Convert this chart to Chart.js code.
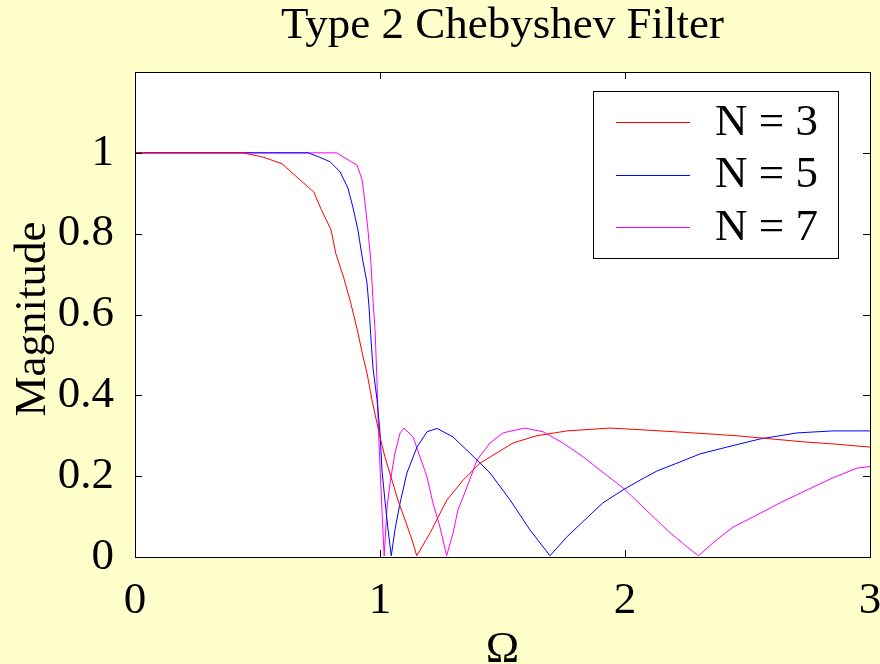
<!DOCTYPE html>
<html>
<head>
<meta charset="utf-8">
<script src="https://cdn.jsdelivr.net/npm/chart.js@4"></script>
<style>
  html, body { margin: 0; padding: 0; background: #ffffcc; overflow: hidden; }
  #wrap { width: 880px; height: 664px; }
</style>
</head>
<body>
<div id="wrap"><canvas id="myChart" width="880" height="664"></canvas></div>
<script>
// values
var omega3 = [0, 0.44, 0.52, 0.60, 0.67, 0.73, 0.76, 0.80, 0.82, 0.85, 0.88, 0.906, 0.931, 0.947, 0.967, 1.0, 1.02, 1.049, 1.073, 1.102, 1.131, 1.15, 1.204, 1.273, 1.339, 1.408, 1.478, 1.543, 1.612, 1.641, 1.763, 1.939, 2.061, 2.306, 2.457, 2.727, 2.865, 3.0];
var mag3 = [1, 1, 0.99, 0.973, 0.935, 0.903, 0.86, 0.81, 0.75, 0.695, 0.63, 0.565, 0.495, 0.455, 0.389, 0.297, 0.248, 0.19, 0.141, 0.092, 0.042, 0.003, 0.059, 0.141, 0.19, 0.232, 0.258, 0.282, 0.295, 0.3, 0.312, 0.319, 0.315, 0.306, 0.3, 0.285, 0.279, 0.272];

var omega5 = [0, 0.706, 0.75, 0.796, 0.837, 0.869, 0.89, 0.91, 0.927, 0.947, 0.955, 0.962, 0.971, 0.988, 1.0, 1.008, 1.02, 1.033, 1.046, 1.061, 1.082, 1.11, 1.151, 1.192, 1.233, 1.298, 1.367, 1.449, 1.531, 1.612, 1.694, 1.763, 1.845, 1.91, 1.992, 2.061, 2.131, 2.224, 2.306, 2.416, 2.551, 2.702, 2.849, 3.0];
var mag5 = [1, 1, 0.99, 0.978, 0.953, 0.913, 0.864, 0.809, 0.743, 0.678, 0.62, 0.55, 0.47, 0.389, 0.307, 0.215, 0.141, 0.067, 0.003, 0.067, 0.134, 0.208, 0.272, 0.31, 0.318, 0.297, 0.257, 0.208, 0.141, 0.067, 0.003, 0.05, 0.097, 0.134, 0.166, 0.19, 0.213, 0.235, 0.255, 0.272, 0.292, 0.307, 0.312, 0.312];

var omega7 = [0, 0.824, 0.849, 0.906, 0.927, 0.939, 0.951, 0.963, 0.971, 0.98, 0.988, 0.992, 0.996, 1.008, 1.017, 1.029, 1.041, 1.061, 1.082, 1.098, 1.135, 1.163, 1.192, 1.216, 1.245, 1.272, 1.298, 1.318, 1.355, 1.396, 1.449, 1.502, 1.59, 1.665, 1.747, 1.829, 1.898, 1.992, 2.073, 2.171, 2.253, 2.3, 2.359, 2.441, 2.539, 2.633, 2.743, 2.849, 2.947, 3.0];
var mag7 = [1, 1, 0.99, 0.97, 0.933, 0.876, 0.809, 0.728, 0.64, 0.56, 0.431, 0.347, 0.282, 0.116, 0.003, 0.124, 0.183, 0.257, 0.307, 0.319, 0.297, 0.248, 0.198, 0.134, 0.074, 0.003, 0.059, 0.116, 0.173, 0.24, 0.282, 0.307, 0.319, 0.31, 0.282, 0.248, 0.215, 0.171, 0.124, 0.067, 0.025, 0.003, 0.035, 0.074, 0.104, 0.134, 0.166, 0.196, 0.22, 0.224];

var seriesLabels = ['N = 3', 'N = 5', 'N = 7'];
var seriesColors = ['#ff0000', '#0000ff', '#ff00ff'];
var xTicks = [0, 1, 2, 3];
var yTicks = [0, 0.2, 0.4, 0.6, 0.8, 1];

var titleText = 'Type 2 Chebyshev Filter';
var serif = '"Liberation Serif", "Times New Roman", serif';
var fontSize = 45;

const toPoints = (xs, ys) => xs.map((x, i) => ({ x: x, y: ys[i] }));

const makeDataset = (i, xs, ys) => ({
  label: seriesLabels[i],
  borderColor: seriesColors[i],
  backgroundColor: seriesColors[i],
  borderWidth: 1,
  pointRadius: 0,
  tension: 0,
  fill: false,
  data: toPoints(xs, ys)
});

// white plot area, box with inward ticks, title and legend
const framePlugin = {
  id: 'frame',
  beforeDraw(chart) {
    const a = chart.chartArea, c = chart.ctx;
    c.save();
    c.fillStyle = '#ffffff';
    c.fillRect(a.left, a.top, a.right - a.left, a.bottom - a.top);
    c.restore();
  },
  afterDraw(chart) {
    const a = chart.chartArea, c = chart.ctx;
    const xs = chart.scales.x, ys = chart.scales.y;
    c.save();
    c.strokeStyle = '#000000';
    c.lineWidth = 1;
    c.strokeRect(a.left + 0.5, a.top + 0.5, a.right - a.left, a.bottom - a.top);
    c.beginPath();
    xTicks.forEach(v => {
      const px = Math.round(xs.getPixelForValue(v)) + 0.5;
      c.moveTo(px, a.bottom); c.lineTo(px, a.bottom - 7);
      c.moveTo(px, a.top); c.lineTo(px, a.top + 7);
    });
    yTicks.concat([1.2]).forEach(v => {
      const py = Math.round(ys.getPixelForValue(v)) + 0.5;
      c.moveTo(a.left, py); c.lineTo(a.left + 7, py);
      c.moveTo(a.right, py); c.lineTo(a.right - 7, py);
    });
    c.stroke();

    // title
    c.fillStyle = '#000000';
    c.font = fontSize + 'px ' + serif;
    c.textAlign = 'center';
    c.textBaseline = 'middle';
    c.fillText(titleText, (a.left + a.right) / 2, 26);

    // legend box
    const bx = a.right - 277, by = a.top + 19, bw = 245, bh = 167;
    c.fillStyle = '#ffffff';
    c.fillRect(bx, by, bw, bh);
    c.strokeStyle = '#000000';
    c.strokeRect(bx + 0.5, by + 0.5, bw, bh);
    chart.data.datasets.forEach((ds, i) => {
      const ly = by + 31 + i * 52.5;
      c.strokeStyle = ds.borderColor;
      c.beginPath();
      c.moveTo(bx + 23, Math.round(ly) + 0.5);
      c.lineTo(bx + 97, Math.round(ly) + 0.5);
      c.stroke();
      c.fillStyle = '#000000';
      c.textAlign = 'left';
      c.fillText(ds.label, bx + 122, ly + 1);
    });
    c.restore();
  }
};

var ctx = document.getElementById('myChart').getContext('2d');
var chart = new Chart(ctx, {
  type: 'line',
  data: {
    datasets: [
      makeDataset(0, omega3, mag3),
      makeDataset(1, omega5, mag5),
      makeDataset(2, omega7, mag7)
    ]
  },
  options: {
    responsive: false,
    animation: false,
    layout: { padding: { top: 72, right: 10, left: 0, bottom: 0 } },
    plugins: {
      legend: { display: false },
      title: { display: false },
      tooltip: { enabled: false }
    },
    scales: {
      x: {
        type: 'linear',
        min: 0,
        max: 3,
        afterFit: scale => {
          scale.height = 107;
          scale.paddingLeft = 0;
          scale.paddingRight = 0;
        },
        afterBuildTicks: scale => { scale.ticks = xTicks.map(v => ({ value: v })); },
        grid: { display: false },
        border: { display: false },
        ticks: {
          color: '#000000',
          padding: 13.5,
          maxRotation: 0,
          font: { family: serif, size: fontSize, lineHeight: 1 },
          callback: v => String(v)
        },
        title: {
          display: true,
          text: 'Ω',
          color: '#000000',
          padding: { top: 0, bottom: -8.5 },
          font: { family: serif, size: fontSize, lineHeight: 1 }
        }
      },
      y: {
        min: 0,
        max: 1.2,
        afterFit: scale => {
          scale.width = 135;
          scale.paddingTop = 0;
          scale.paddingBottom = 0;
        },
        afterBuildTicks: scale => { scale.ticks = yTicks.map(v => ({ value: v })); },
        grid: { display: false },
        border: { display: false },
        ticks: {
          color: '#000000',
          padding: 13,
          font: { family: serif, size: fontSize, lineHeight: 1 },
          callback: v => String(Number(v.toFixed(1)))
        },
        title: {
          display: true,
          text: 'Magnitude\u2009',
          color: '#000000',
          padding: { top: 10.5, bottom: 0 },
          font: { family: serif, size: fontSize, lineHeight: 1 }
        }
      }
    }
  },
  plugins: [framePlugin]
});
</script>
</body>
</html>
